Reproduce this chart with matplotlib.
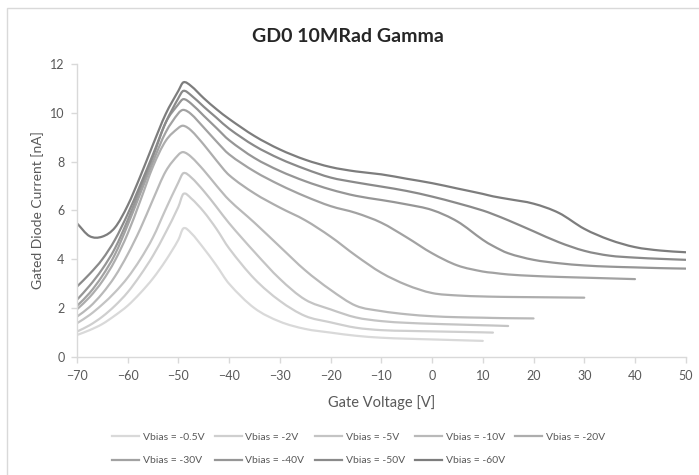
import numpy as np
import matplotlib
matplotlib.use("Agg")
import matplotlib.pyplot as plt
from matplotlib.path import Path
from matplotlib.patches import PathPatch, Rectangle
from matplotlib.lines import Line2D

plt.rcParams['font.family'] = ['Lato', 'DejaVu Sans']

# Gate voltage sweep [V]; shorter sweeps use the first part of it
gate_v = [-70, -67.5, -65, -62.5, -60, -57.5, -55, -52.5, -50, -49, -47.5, -45,
          -42.5, -40, -35, -30, -25, -20, -15, -10, -5, 0, 5, 10, 12, 15, 20,
          25, 30, 35, 40, 45, 50]

# Gated diode current [nA] for each bias voltage
i_05 = [0.90, 1.10, 1.35, 1.70, 2.10, 2.62, 3.22, 3.95, 4.80, 5.27, 5.08, 4.45,
        3.75, 3.00, 2.00, 1.45, 1.15, 1.00, 0.87, 0.79, 0.75, 0.72, 0.69, 0.66]
i_2 = [1.04, 1.30, 1.65, 2.10, 2.65, 3.35, 4.15, 5.10, 6.15, 6.68, 6.50, 5.95,
       5.25, 4.45, 3.20, 2.30, 1.68, 1.42, 1.20, 1.10, 1.07, 1.05, 1.03, 1.01,
       1.00]
i_5 = [1.38, 1.72, 2.15, 2.65, 3.25, 4.00, 4.90, 6.05, 7.15, 7.53, 7.36, 6.80,
       6.15, 5.48, 4.30, 3.20, 2.35, 1.95, 1.62, 1.47, 1.40, 1.36, 1.33, 1.30,
       1.29, 1.27]
i_10 = [1.65, 2.05, 2.60, 3.30, 4.20, 5.25, 6.45, 7.60, 8.28, 8.39, 8.20, 7.65,
        7.02, 6.43, 5.50, 4.52, 3.55, 2.75, 2.10, 1.88, 1.75, 1.67, 1.63, 1.61,
        1.60, 1.59, 1.58]
i_20 = [1.95, 2.45, 3.10, 3.95, 5.05, 6.40, 7.80, 8.85, 9.38, 9.47, 9.28, 8.70,
        8.05, 7.45, 6.70, 6.12, 5.60, 4.93, 4.15, 3.45, 2.95, 2.62, 2.52, 2.48,
        2.47, 2.46, 2.45, 2.44, 2.43]
i_30 = [2.09, 2.62, 3.32, 4.20, 5.40, 6.70, 8.00, 9.20, 9.98, 10.12, 9.95,
        9.40, 8.83, 8.30, 7.60, 7.05, 6.58, 6.18, 5.90, 5.50, 4.90, 4.25, 3.75,
        3.50, 3.45, 3.38, 3.32, 3.28, 3.25, 3.22, 3.19]
i_40 = [2.34, 2.92, 3.60, 4.45, 5.60, 6.90, 8.20, 9.60, 10.35, 10.56, 10.38,
        9.88, 9.38, 8.88, 8.15, 7.62, 7.20, 6.86, 6.60, 6.43, 6.25, 6.02, 5.55,
        4.80, 4.55, 4.25, 3.98, 3.84, 3.75, 3.70, 3.67, 3.64, 3.62]
i_50 = [2.88, 3.40, 4.00, 4.80, 5.85, 7.05, 8.30, 9.60, 10.60, 10.90, 10.72,
        10.25, 9.80, 9.35, 8.65, 8.12, 7.70, 7.35, 7.15, 6.98, 6.80, 6.57, 6.30,
        6.00, 5.85, 5.60, 5.15, 4.70, 4.35, 4.15, 4.07, 4.02, 3.98]
i_60 = [5.48, 4.95, 4.93, 5.30, 6.20, 7.40, 8.70, 9.95, 10.90, 11.25, 11.10,
        10.60, 10.15, 9.75, 9.05, 8.50, 8.08, 7.78, 7.60, 7.48, 7.30, 7.12, 6.90,
        6.68, 6.58, 6.47, 6.28, 5.90, 5.25, 4.80, 4.50, 4.36, 4.29]

labels = ['Vbias = -0.5V', 'Vbias = -2V', 'Vbias = -5V', 'Vbias = -10V',
          'Vbias = -20V', 'Vbias = -30V', 'Vbias = -40V', 'Vbias = -50V',
          'Vbias = -60V']
series = [i_05, i_2, i_5, i_10, i_20, i_30, i_40, i_50, i_60]
colors = ['#d9d9d9', '#cfcfcf', '#c4c4c4', '#b9b9b9', '#adadad', '#a2a2a2',
          '#969696', '#8a8a8a', '#7d7d7d']

TXT = '#595959'
AXC = '#d9d9d9'


def smooth_path(xs, ys):
    # cubic Hermite segments (as Bezier) with centred slopes -> smoothed line
    x = np.asarray(xs, float)
    y = np.asarray(ys, float)
    n = len(x)
    m = np.empty(n)
    m[1:-1] = (y[2:] - y[:-2]) / (x[2:] - x[:-2])
    m[0] = (y[1] - y[0]) / (x[1] - x[0])
    m[-1] = (y[-1] - y[-2]) / (x[-1] - x[-2])
    verts = [(x[0], y[0])]
    codes = [Path.MOVETO]
    for k in range(n - 1):
        h = (x[k + 1] - x[k]) / 3
        verts += [(x[k] + h, y[k] + m[k] * h),
                  (x[k + 1] - h, y[k + 1] - m[k + 1] * h),
                  (x[k + 1], y[k + 1])]
        codes += [Path.CURVE4] * 3
    return Path(verts, codes)


fig = plt.figure(figsize=(6.99, 4.75), dpi=100)
ax = fig.add_axes([0.110, 0.2484, 0.871, 0.6169])

for cur, col in zip(series, colors):
    path = smooth_path(gate_v[:len(cur)], cur)
    ax.add_patch(PathPatch(path, facecolor='none', edgecolor=col, lw=1.6,
                           capstyle='round', joinstyle='round'))

ax.set_xlim(-70, 50)
ax.set_ylim(0, 12)
ax.set_xticks(np.arange(-70, 51, 10))
ax.set_yticks(np.arange(0, 13, 2))

for side in ['top', 'right']:
    ax.spines[side].set_visible(False)
for side in ['left', 'bottom']:
    ax.spines[side].set_color(AXC)
    ax.spines[side].set_linewidth(1.0)
ax.tick_params(axis='both', colors=AXC, labelcolor=TXT, labelsize=9,
               length=4, width=1.0, direction='out')
ax.tick_params(axis='x', pad=5)
ax.tick_params(axis='y', pad=5)

ax.set_xlabel('Gate Voltage [V]', fontsize=10.5, color=TXT, labelpad=10)
ax.set_ylabel('Gated Diode Current [nA]', fontsize=10, color=TXT, labelpad=4)

fig.text(0.498, 0.924, 'GD0 10MRad Gamma', ha='center', va='center',
         fontsize=14, fontweight='bold', color='#262626')

# legend filled row by row over five columns
handles = [Line2D([], [], color=c, lw=1.6) for c in colors]
order = [0, 5, 1, 6, 2, 7, 3, 8, 4]
fig.legend([handles[k] for k in order], [labels[k] for k in order],
           ncol=5, loc='center', bbox_to_anchor=(0.513, 0.0547),
           frameon=False, fontsize=7.5, labelcolor=TXT, handlelength=2.6,
           handletextpad=0.35, columnspacing=1.0, labelspacing=1.35)

# outer chart border
fig.patches.append(Rectangle((7 / 699, -0.1), 1.2, 1.1 - 8 / 475,
                             transform=fig.transFigure, fill=False,
                             edgecolor=AXC, lw=1.0))

fig.savefig('out.png', dpi=100)
